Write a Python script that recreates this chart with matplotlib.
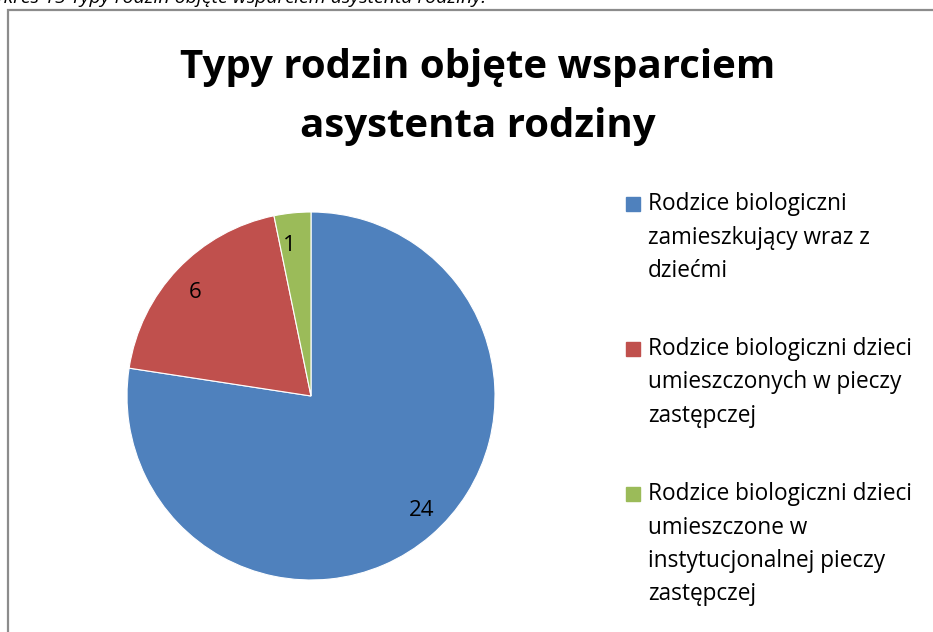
import matplotlib.pyplot as plt
from matplotlib.patches import Rectangle

# dane wykresu
categories = [
    "Rodzice biologiczni\nzamieszkujący wraz z\ndziećmi",
    "Rodzice biologiczni dzieci\numieszczonych w pieczy\nzastępczej",
    "Rodzice biologiczni dzieci\numieszczone w\ninstytucjonalnej pieczy\nzastępczej",
]
values = [24, 6, 1]
colors = ["#4F81BD", "#C0504D", "#9BBB59"]
title = "Typy rodzin objęte wsparciem\nasystenta rodziny"
caption = "Wykres 15 Typy rodzin objęte wsparciem asystenta rodziny."

W, H = 933, 632
fig = plt.figure(figsize=(W / 100, H / 100), dpi=100)
plt.rcParams['font.family'] = ['Open Sans', 'DejaVu Sans']

# ramka obszaru wykresu (wychodzi poza prawą i dolną krawędź)
fig.patches.append(Rectangle((8 / W, -0.05), 1.1, 1 - 10 / H + 0.05,
                             transform=fig.transFigure, fill=False,
                             edgecolor="#8c8c8c", lw=1.6))

# podpis ucięty u góry
fig.text(-22 / W, 1 - 3 / H, caption, fontsize=14, style='italic',
         va='baseline', ha='left')

# tytuł
fig.text(478 / W, 1 - 97 / H, title, fontsize=29, fontweight='bold',
         ha='center', va='center', linespacing=1.65)

# koło
r = 184
cx, cy = 311, 396
ax = fig.add_axes([(cx - r) / W, 1 - (cy + r) / H, 2 * r / W, 2 * r / H])
wedges, texts = ax.pie(values, colors=colors, startangle=90, counterclock=False,
                       labels=[str(v) for v in values], labeldistance=0.82,
                       wedgeprops=dict(edgecolor='white', linewidth=0.8),
                       textprops=dict(fontsize=16))
ax.set_aspect('equal')
ax.set_xlim(-1, 1)
ax.set_ylim(-1, 1)

# legenda
line_h = 33.5
y0 = 204
gaps = [0, 145, 290]
for i, (lab, col) in enumerate(zip(categories, colors)):
    y = y0 + gaps[i]
    fig.patches.append(Rectangle((626 / W, 1 - (y + 7) / H), 14 / W, 14 / H,
                                 transform=fig.transFigure, color=col))
    for j, line in enumerate(lab.split("\n")):
        fig.text(648 / W, 1 - (y + j * line_h) / H, line, fontsize=16.3,
                 ha='left', va='center')

fig.savefig("out.png", dpi=100, facecolor='white')
